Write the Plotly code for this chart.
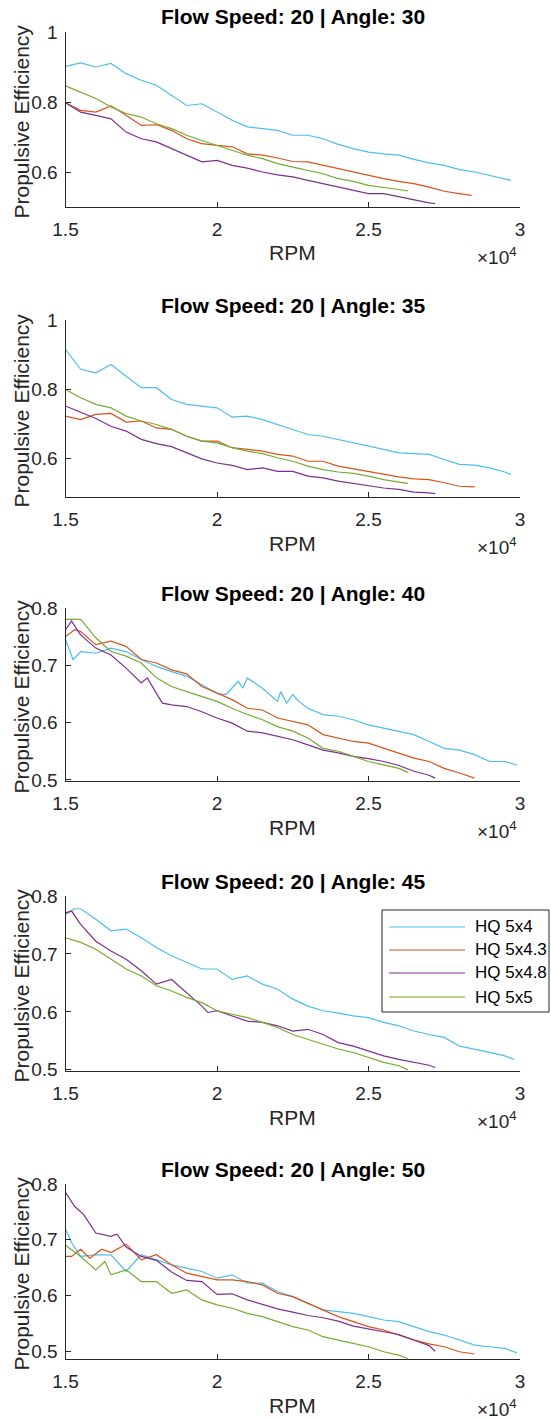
import plotly.graph_objects as go

# ---------------- data ----------------
names = ["HQ 5x4", "HQ 5x4.3", "HQ 5x4.8", "HQ 5x5"]
colors = ["#4DBEEE", "#D95319", "#7E2F8E", "#77AC30"]
angles = [30, 35, 40, 45, 50]
x_tickvals = [15000, 20000, 25000, 30000]
x_ticktext = ["1.5", "2", "2.5", "3"]

# Angle 30
rpm_30_5x4 = [15000, 15500, 16000, 16500, 17000, 17500, 18000, 18500, 19000, 19500, 20000, 20500, 21000, 21500, 22000,
              22500, 23000, 23500, 24000, 24500, 25000, 25500, 26000, 26500, 27000, 27500, 28000, 28500, 29000, 29500, 29700]
eff_30_5x4 = [0.902, 0.912, 0.900, 0.910, 0.881, 0.862, 0.848, 0.819, 0.790, 0.795, 0.771, 0.748, 0.729, 0.724, 0.719,
              0.705, 0.705, 0.695, 0.679, 0.667, 0.657, 0.652, 0.648, 0.636, 0.626, 0.619, 0.607, 0.600, 0.590, 0.581, 0.576]
rpm_30_5x43 = [15000, 15500, 16000, 16500, 17000, 17500, 18000, 18500, 19000, 19500, 20000, 20500, 21000, 21500, 22000,
               22500, 23000, 23500, 24000, 24500, 25000, 25500, 26000, 26500, 27000, 27500, 28000, 28400]
eff_30_5x43 = [0.798, 0.776, 0.771, 0.789, 0.762, 0.733, 0.735, 0.719, 0.695, 0.681, 0.676, 0.672, 0.652, 0.648, 0.640,
               0.630, 0.629, 0.619, 0.610, 0.600, 0.590, 0.581, 0.573, 0.567, 0.557, 0.545, 0.538, 0.533]
rpm_30_5x48 = [15000, 15500, 16000, 16500, 17000, 17500, 18000, 18500, 19000, 19500, 20000, 20500, 21000, 21500, 22000,
               22500, 23000, 23500, 24000, 24500, 25000, 25500, 26000, 26500, 27000, 27200]
eff_30_5x48 = [0.798, 0.771, 0.762, 0.752, 0.714, 0.695, 0.686, 0.667, 0.648, 0.629, 0.633, 0.619, 0.611, 0.600, 0.592,
               0.586, 0.576, 0.567, 0.557, 0.548, 0.538, 0.538, 0.529, 0.519, 0.512, 0.510]
rpm_30_5x5 = [15000, 15500, 16000, 16500, 17000, 17500, 18000, 18500, 19000, 19500, 20000, 20500, 21000, 21500, 22000,
              22500, 23000, 23500, 24000, 24500, 25000, 25500, 26000, 26300]
eff_30_5x5 = [0.846, 0.829, 0.810, 0.786, 0.767, 0.757, 0.738, 0.724, 0.705, 0.690, 0.676, 0.662, 0.648, 0.638, 0.624,
              0.614, 0.605, 0.595, 0.581, 0.573, 0.562, 0.555, 0.550, 0.546]

# Angle 35
rpm_35_5x4 = [15000, 15500, 16000, 16500, 17000, 17500, 18000, 18500, 19000, 19500, 20000, 20500, 21000, 21500, 22000,
              22500, 23000, 23500, 24000, 24500, 25000, 25500, 26000, 26500, 27000, 27500, 28000, 28500, 29000, 29500, 29700]
eff_35_5x4 = [0.915, 0.858, 0.848, 0.872, 0.838, 0.805, 0.805, 0.771, 0.757, 0.752, 0.747, 0.720, 0.723, 0.713, 0.699,
              0.685, 0.670, 0.665, 0.656, 0.646, 0.637, 0.627, 0.617, 0.615, 0.613, 0.598, 0.584, 0.582, 0.574, 0.562, 0.555]
rpm_35_5x43 = [15000, 15500, 16000, 16500, 17000, 17500, 18000, 18500, 19000, 19500, 20000, 20500, 21000, 21500, 22000,
               22500, 23000, 23500, 24000, 24500, 25000, 25500, 26000, 26500, 27000, 27500, 28000, 28500]
eff_35_5x43 = [0.723, 0.713, 0.728, 0.731, 0.706, 0.709, 0.689, 0.685, 0.665, 0.651, 0.651, 0.632, 0.627, 0.622, 0.613,
               0.608, 0.593, 0.593, 0.579, 0.571, 0.564, 0.555, 0.548, 0.542, 0.540, 0.531, 0.521, 0.519]
rpm_35_5x48 = [15000, 15500, 16000, 16500, 17000, 17500, 18000, 18500, 19000, 19500, 20000, 20500, 21000, 21500, 22000,
               22500, 23000, 23500, 24000, 24500, 25000, 25500, 26000, 26500, 27000, 27200]
eff_35_5x48 = [0.752, 0.733, 0.716, 0.694, 0.680, 0.656, 0.644, 0.635, 0.617, 0.600, 0.588, 0.581, 0.569, 0.574, 0.564,
               0.564, 0.550, 0.545, 0.536, 0.529, 0.521, 0.516, 0.512, 0.504, 0.502, 0.500]
rpm_35_5x5 = [15000, 15500, 16000, 16500, 17000, 17500, 18000, 18500, 19000, 19500, 20000, 20500, 21000, 21500, 22000,
              22500, 23000, 23500, 24000, 24500, 25000, 25500, 26000, 26300]
eff_35_5x5 = [0.800, 0.776, 0.757, 0.747, 0.723, 0.709, 0.699, 0.685, 0.665, 0.651, 0.646, 0.632, 0.622, 0.615, 0.603,
              0.593, 0.579, 0.569, 0.562, 0.558, 0.550, 0.540, 0.533, 0.529]

# Angle 40
rpm_40_5x4 = [15000, 15250, 15500, 16000, 16500, 17000, 17500, 18000, 18500, 19000, 19500, 20000, 20300, 20500, 20700,
              20850, 21000, 21500, 22000, 22100, 22300, 22500, 22700, 23000, 23500, 24000, 24500, 25000, 25500, 26000,
              26500, 27000, 27500, 28000, 28500, 29000, 29500, 29900]
eff_40_5x4 = [0.745, 0.710, 0.724, 0.721, 0.730, 0.724, 0.710, 0.698, 0.689, 0.681, 0.666, 0.651, 0.649, 0.660, 0.672,
              0.660, 0.678, 0.660, 0.637, 0.654, 0.634, 0.649, 0.637, 0.625, 0.614, 0.611, 0.605, 0.596, 0.590, 0.585,
              0.579, 0.567, 0.555, 0.552, 0.544, 0.532, 0.532, 0.526]
rpm_40_5x43 = [15000, 15300, 15500, 16000, 16500, 17000, 17500, 18000, 18500, 19000, 19500, 20000, 20500, 21000, 21500,
               22000, 22500, 23000, 23500, 24000, 24500, 25000, 25500, 26000, 26500, 27000, 27500, 28000, 28500]
eff_40_5x43 = [0.750, 0.762, 0.759, 0.736, 0.742, 0.733, 0.710, 0.704, 0.692, 0.685, 0.663, 0.651, 0.640, 0.625, 0.622,
               0.608, 0.602, 0.596, 0.579, 0.573, 0.567, 0.564, 0.555, 0.547, 0.538, 0.532, 0.520, 0.512, 0.503]
rpm_40_5x48 = [15000, 15200, 15500, 16000, 16500, 17000, 17500, 17700, 18000, 18200, 18500, 19000, 19500, 20000, 20500,
               21000, 21500, 22000, 22500, 23000, 23500, 24000, 24500, 25000, 25500, 26000, 26500, 27000, 27200]
eff_40_5x48 = [0.762, 0.777, 0.753, 0.730, 0.718, 0.695, 0.669, 0.678, 0.651, 0.634, 0.631, 0.628, 0.619, 0.608, 0.599,
               0.585, 0.582, 0.576, 0.570, 0.561, 0.552, 0.547, 0.541, 0.537, 0.532, 0.525, 0.515, 0.508, 0.503]
rpm_40_5x5 = [15000, 15500, 16000, 16500, 17000, 17500, 18000, 18500, 19000, 19500, 20000, 20500, 21000, 21500, 22000,
              22500, 23000, 23500, 24000, 24500, 25000, 25500, 26000, 26300]
eff_40_5x5 = [0.780, 0.780, 0.748, 0.724, 0.716, 0.704, 0.678, 0.663, 0.654, 0.646, 0.637, 0.625, 0.614, 0.605, 0.593,
              0.585, 0.573, 0.555, 0.550, 0.541, 0.532, 0.526, 0.520, 0.513]

# Angle 45 (no HQ 5x4.3 data)
rpm_45_5x4 = [15000, 15300, 15500, 16000, 16500, 17000, 17500, 18000, 18500, 19000, 19500, 20000, 20500, 21000, 21500,
              22000, 22500, 23000, 23500, 24000, 24500, 25000, 25500, 26000, 26500, 27000, 27500, 28000, 28500, 29000,
              29500, 29800]
eff_45_5x4 = [0.768, 0.778, 0.778, 0.760, 0.740, 0.743, 0.728, 0.711, 0.697, 0.685, 0.674, 0.674, 0.656, 0.662, 0.648,
              0.639, 0.622, 0.610, 0.602, 0.598, 0.593, 0.590, 0.582, 0.576, 0.567, 0.561, 0.556, 0.541, 0.536, 0.530,
              0.524, 0.518]
rpm_45_5x48 = [15000, 15200, 15500, 16000, 16500, 17000, 17500, 18000, 18500, 19000, 19500, 19700, 20000, 20500, 21000,
               21500, 22000, 22500, 23000, 23500, 24000, 24500, 25000, 25500, 26000, 26500, 27000, 27200]
eff_45_5x48 = [0.771, 0.774, 0.751, 0.722, 0.705, 0.691, 0.671, 0.648, 0.656, 0.633, 0.610, 0.599, 0.602, 0.593, 0.584,
               0.582, 0.576, 0.567, 0.570, 0.561, 0.547, 0.541, 0.533, 0.524, 0.518, 0.513, 0.508, 0.504]
rpm_45_5x5 = [15000, 15500, 16000, 16500, 17000, 17500, 18000, 18500, 19000, 19500, 20000, 20500, 21000, 21500, 22000,
              22500, 23000, 23500, 24000, 24500, 25000, 25500, 26000, 26300]
eff_45_5x5 = [0.728, 0.720, 0.708, 0.691, 0.674, 0.662, 0.645, 0.636, 0.625, 0.616, 0.602, 0.596, 0.590, 0.582, 0.573,
              0.561, 0.553, 0.544, 0.536, 0.530, 0.521, 0.513, 0.507, 0.500]

# Angle 50
rpm_50_5x4 = [15000, 15200, 15500, 16000, 16500, 17000, 17500, 18000, 18500, 19000, 19500, 20000, 20500, 21000, 21500,
              22000, 22500, 23000, 23500, 24000, 24500, 25000, 25500, 26000, 26500, 27000, 27500, 28000, 28500, 29000,
              29500, 29900]
eff_50_5x4 = [0.719, 0.695, 0.670, 0.673, 0.673, 0.643, 0.673, 0.664, 0.655, 0.649, 0.643, 0.631, 0.637, 0.622, 0.622,
              0.607, 0.598, 0.586, 0.574, 0.571, 0.568, 0.562, 0.556, 0.553, 0.544, 0.535, 0.529, 0.520, 0.511, 0.508,
              0.505, 0.497]
rpm_50_5x43 = [15000, 15200, 15500, 15800, 16200, 16500, 17000, 17500, 18000, 18500, 19000, 19500, 20000, 20500, 21000,
               21500, 22000, 22500, 23000, 23500, 24000, 24500, 25000, 25500, 26000, 26500, 27000, 27500, 28000, 28500]
eff_50_5x43 = [0.670, 0.670, 0.683, 0.667, 0.683, 0.677, 0.692, 0.664, 0.673, 0.655, 0.640, 0.634, 0.628, 0.628, 0.625,
               0.619, 0.604, 0.598, 0.586, 0.574, 0.562, 0.553, 0.544, 0.538, 0.529, 0.520, 0.513, 0.508, 0.499, 0.495]
rpm_50_5x48 = [15000, 15300, 15600, 16000, 16500, 16700, 17000, 17500, 18000, 18500, 19000, 19500, 20000, 20500, 21000,
               21500, 22000, 22500, 23000, 23500, 24000, 24500, 25000, 25500, 26000, 26500, 27000, 27200]
eff_50_5x48 = [0.785, 0.760, 0.745, 0.712, 0.706, 0.710, 0.687, 0.670, 0.663, 0.642, 0.627, 0.625, 0.602, 0.603, 0.592,
               0.584, 0.576, 0.570, 0.564, 0.560, 0.554, 0.545, 0.540, 0.535, 0.530, 0.520, 0.510, 0.500]
rpm_50_5x5 = [15000, 15500, 16000, 16300, 16500, 17000, 17500, 18000, 18500, 19000, 19500, 20000, 20500, 21000, 21500,
              22000, 22500, 23000, 23500, 24000, 24500, 25000, 25500, 26000, 26300]
eff_50_5x5 = [0.690, 0.670, 0.646, 0.661, 0.637, 0.646, 0.625, 0.625, 0.604, 0.610, 0.592, 0.583, 0.577, 0.568, 0.562,
              0.553, 0.544, 0.538, 0.526, 0.520, 0.514, 0.508, 0.499, 0.493, 0.487]

panel_series = [
    [(rpm_30_5x4, eff_30_5x4), (rpm_30_5x43, eff_30_5x43), (rpm_30_5x48, eff_30_5x48), (rpm_30_5x5, eff_30_5x5)],
    [(rpm_35_5x4, eff_35_5x4), (rpm_35_5x43, eff_35_5x43), (rpm_35_5x48, eff_35_5x48), (rpm_35_5x5, eff_35_5x5)],
    [(rpm_40_5x4, eff_40_5x4), (rpm_40_5x43, eff_40_5x43), (rpm_40_5x48, eff_40_5x48), (rpm_40_5x5, eff_40_5x5)],
    [(rpm_45_5x4, eff_45_5x4), None, (rpm_45_5x48, eff_45_5x48), (rpm_45_5x5, eff_45_5x5)],
    [(rpm_50_5x4, eff_50_5x4), (rpm_50_5x43, eff_50_5x43), (rpm_50_5x48, eff_50_5x48), (rpm_50_5x5, eff_50_5x5)],
]
y_ranges = [[0.5, 1.0], [0.49, 1.0], [0.498, 0.8], [0.498, 0.8], [0.486, 0.8]]
y_tickvals = [[0.6, 0.8, 1.0], [0.6, 0.8, 1.0], [0.5, 0.6, 0.7, 0.8], [0.5, 0.6, 0.7, 0.8], [0.5, 0.6, 0.7, 0.8]]
y_ticktext = [["0.6", "0.8", "1"], ["0.6", "0.8", "1"], ["0.5", "0.6", "0.7", "0.8"],
              ["0.5", "0.6", "0.7", "0.8"], ["0.5", "0.6", "0.7", "0.8"]]

# ---------------- layout geometry (pixels) ----------------
W, H = 551, 1419
AX_L, AX_R = 65.5, 520
tops = [32, 320, 608, 896, 1184]
bottoms = [207, 497, 781, 1071, 1359]
FONT = "Liberation Sans, Arial, Helvetica, sans-serif"
TXT = "#262626"
# legend box (pixels): left, right, top, bottom, row centres
LEG_L, LEG_R, LEG_T, LEG_B = 382, 549, 910, 1012
LEG_ROWS = [927, 950, 973, 997]
LEG_LINE = (389, 465)
LEG_TEXT_X = 473


def px_x(p):
    return p / W


def px_y(p):
    return 1 - p / H


fig = go.Figure()
layout = dict(
    template="none",
    width=W, height=H, autosize=False,
    margin=dict(l=0, r=0, t=0, b=0, autoexpand=False),
    paper_bgcolor="white", plot_bgcolor="white",
    font=dict(family=FONT, color=TXT, size=19),
    showlegend=False,
)
annotations = []
shapes = []

for i, series in enumerate(panel_series):
    k = "" if i == 0 else str(i + 1)
    xa, ya = "x" + k, "y" + k
    for j, s in enumerate(series):
        if s is None:
            continue
        fig.add_trace(go.Scatter(
            x=s[0], y=s[1], mode="lines", name=names[j],
            line=dict(color=colors[j], width=1.2),
            xaxis=xa, yaxis=ya, legendgroup=names[j], showlegend=False,
        ))
    common = dict(showline=True, linecolor=TXT, linewidth=1, ticks="inside", ticklen=5,
                  tickcolor=TXT, showgrid=False, zeroline=False, mirror=False, automargin=False,
                  tickfont=dict(family=FONT, size=19, color=TXT))
    layout["xaxis" + k] = dict(
        domain=[px_x(AX_L), px_x(AX_R)], anchor=ya, range=[15000, 30000],
        tickvals=x_tickvals, ticktext=x_ticktext, ticklabelstandoff=5, **common)
    layout["yaxis" + k] = dict(
        domain=[px_y(bottoms[i]), px_y(tops[i])], anchor=xa, range=y_ranges[i],
        tickvals=y_tickvals[i], ticktext=y_ticktext[i], ticklabelstandoff=3, **common)

    cx = (AX_L + AX_R) / 2
    annotations += [
        dict(text=f"<b>Flow Speed: 20 | Angle: {angles[i]}</b>", x=px_x(cx), y=px_y(tops[i] - 15),
             xref="paper", yref="paper", showarrow=False, xanchor="center", yanchor="middle",
             font=dict(family=FONT, size=21, color="#000000")),
        dict(text="RPM", x=px_x(cx), y=px_y(bottoms[i] + 46), xref="paper", yref="paper",
             showarrow=False, xanchor="center", yanchor="middle", font=dict(family=FONT, size=21, color=TXT)),
        dict(text="×10<sup>4</sup>", x=px_x(AX_R - 1), y=px_y(bottoms[i] + 49), xref="paper", yref="paper",
             showarrow=False, xanchor="right", yanchor="middle", font=dict(family=FONT, size=19, color=TXT)),
        dict(text="Propulsive Efficiency", x=px_x(21), y=px_y((tops[i] + bottoms[i]) / 2 + 2),
             xref="paper", yref="paper", showarrow=False, xanchor="center", yanchor="middle",
             textangle=-90, font=dict(family=FONT, size=21, color=TXT)),
    ]

# legend (drawn in the 4th panel, as in the reference)
shapes.append(dict(type="rect", xref="paper", yref="paper",
                   x0=px_x(LEG_L), x1=px_x(LEG_R), y0=px_y(LEG_B), y1=px_y(LEG_T),
                   line=dict(color=TXT, width=1), fillcolor="white", layer="above"))
for j, nm in enumerate(names):
    shapes.append(dict(type="line", xref="paper", yref="paper",
                       x0=px_x(LEG_LINE[0]), x1=px_x(LEG_LINE[1]),
                       y0=px_y(LEG_ROWS[j]), y1=px_y(LEG_ROWS[j]),
                       line=dict(color=colors[j], width=1.2), layer="above"))
    annotations.append(dict(text=nm, x=px_x(LEG_TEXT_X), y=px_y(LEG_ROWS[j]), xref="paper", yref="paper",
                            showarrow=False, xanchor="left", yanchor="middle",
                            font=dict(family=FONT, size=17, color="#000000")))

layout["annotations"] = annotations
layout["shapes"] = shapes
fig.update_layout(**layout)
fig.write_html("out.html", config={"displayModeBar": False},
               post_script="document.body.style.margin='0';document.body.style.overflow='hidden';")
